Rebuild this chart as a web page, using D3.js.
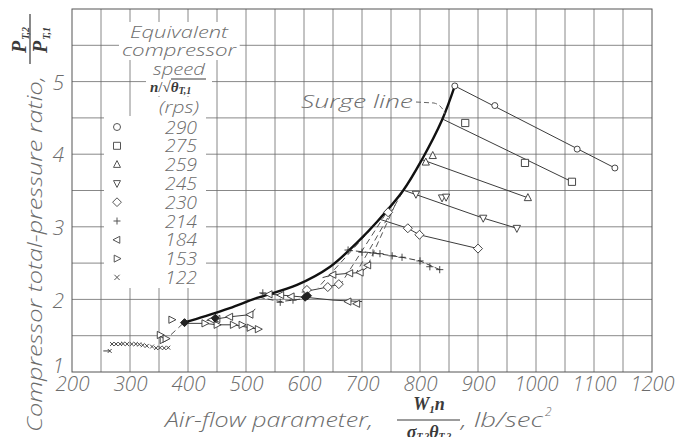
<!DOCTYPE html>
<html>
<head>
<meta charset="utf-8">
<script src="https://cdn.jsdelivr.net/npm/d3@7"></script>
<style>
body { margin: 0; background: #fff; }
text { font-family: "Open Sans", "DejaVu Sans", sans-serif; font-style: italic; font-weight: 300; fill: #6c6c6c; }
.math { font-family: "Liberation Serif", "DejaVu Serif", serif; font-weight: bold; font-style: italic; fill: #3a3a3a; }
</style>
</head>
<body>
<svg id="chart" width="689" height="437"></svg>
<script>
// axes
var xTicks = [200, 300, 400, 500, 600, 700, 800, 900, 1000, 1100, 1200];
var yTicks = [1, 2, 3, 4, 5];

// legend
var speeds = ["290", "275", "259", "245", "230", "214", "184", "153", "122"];
var shapes = ["circle", "square", "triUp", "triDown", "diamond", "plus", "triLeft", "triRight", "cross"];

// surge line (heavy curve)
var surge = [[391, 1.675], [430, 1.77], [472, 1.88], [519, 2.02], [588, 2.2], [645, 2.45],
    [691, 2.78], [726, 3.07], [771, 3.5], [803, 3.92], [838, 4.47], [860, 4.94]];

// 290 rps
var pts290 = [[860, 4.94], [929, 4.67], [1071, 4.07], [1136, 3.81]];
var line290 = [[860, 4.94], [1136, 3.81]];
// 275 rps
var pts275 = [[878, 4.43], [981, 3.88], [1062, 3.62]];
var line275 = [[840, 4.48], [1062, 3.62]];
// 259 rps
var pts259 = [[810, 3.89], [822, 3.98], [986, 3.40]];
var line259 = [[805, 3.92], [986, 3.40]];
// 245 rps
var pts245 = [[793, 3.45], [838, 3.40], [845, 3.41], [909, 3.12], [967, 2.98]];
var line245 = [[773, 3.5], [909, 3.12], [967, 2.98]];
// 230 rps
var pts230 = [[745, 3.2], [779, 2.98], [799, 2.89], [900, 2.70], [605, 2.13], [641, 2.17], [660, 2.21]];
var line230 = [[732, 3.1], [779, 2.98], [799, 2.89], [900, 2.70]];
var line230low = [[596, 2.1], [641, 2.17], [660, 2.21]];
// 214 rps
var pts214 = [[676, 2.68], [700, 2.65], [719, 2.64], [731, 2.63], [752, 2.60], [769, 2.58], [800, 2.53],
    [817, 2.45], [834, 2.41], [529, 2.09], [559, 1.96], [581, 1.99]];
var line214 = [[674, 2.68], [719, 2.64], [769, 2.58], [800, 2.53], [834, 2.41]];
var line214low = [[522, 2.03], [559, 1.97], [581, 1.99], [600, 2.01]];
// 184 rps
var pts184 = [[650, 2.34], [679, 2.36], [697, 2.37], [710, 2.47], [676, 1.97], [691, 1.94],
    [540, 2.07], [560, 2.06], [578, 2.04], [441, 1.72], [450, 1.73], [472, 1.76], [507, 1.79]];
var line184 = [[632, 2.3], [650, 2.34], [679, 2.36], [697, 2.37], [712, 2.46]];
var line184mid = [[525, 2.08], [560, 2.06], [602, 2.03], [650, 1.99], [700, 1.97]];
var line184low = [[432, 1.71], [472, 1.76], [507, 1.79], [516, 1.87]];
// 153 rps
var pts153 = [[372, 1.72], [429, 1.67], [450, 1.65], [478, 1.65], [493, 1.65], [507, 1.61], [521, 1.59],
    [352, 1.51], [357, 1.44], [362, 1.46]];
var line153 = [[395, 1.67], [429, 1.67], [450, 1.65], [478, 1.65], [507, 1.61], [521, 1.59]];
// 122 rps
var pts122 = [[265, 1.29], [269, 1.385], [276, 1.385], [283, 1.385], [288, 1.39], [295, 1.385], [303, 1.385],
    [310, 1.385], [316, 1.38], [322, 1.37], [329, 1.36], [338, 1.35], [345, 1.33], [352, 1.335], [359, 1.33], [366, 1.335]];
var line122 = [[254, 1.29], [265, 1.29]];

// dashed links to the surge line
var dashLinks = [
    [[770, 3.48], [691, 2.38]],
    [[757, 3.3], [710, 2.47]],
    [[741, 3.18], [664, 2.22]],
    [[717, 2.98], [624, 2.16]],
    [[391, 1.665], [366, 1.48]]
];
// heavy overplotted clusters
var blobs = [[602, 2.03], [394, 1.68], [447, 1.74], [606, 2.05]];

var svg = d3.select("#chart");
var x = d3.scaleLinear().domain([200, 1200]).range([72, 652]);
var y = d3.scaleLinear().domain([1, 6]).range([372, 9]);

function sym(type, r) {
    switch (type) {
        case "circle": return "M" + (-r) + ",0a" + r + "," + r + " 0 1,0 " + (2 * r) + ",0a" + r + "," + r + " 0 1,0 " + (-2 * r) + ",0";
        case "square": return "M" + (-r) + "," + (-r) + "h" + (2 * r) + "v" + (2 * r) + "h" + (-2 * r) + "Z";
        case "triUp": return "M0," + (-1.15 * r) + "L" + r + "," + (0.8 * r) + "L" + (-r) + "," + (0.8 * r) + "Z";
        case "triDown": return "M0," + (1.15 * r) + "L" + r + "," + (-0.8 * r) + "L" + (-r) + "," + (-0.8 * r) + "Z";
        case "triLeft": return "M" + (-1.15 * r) + ",0L" + (0.8 * r) + "," + (-r) + "L" + (0.8 * r) + "," + r + "Z";
        case "triRight": return "M" + (1.15 * r) + ",0L" + (-0.8 * r) + "," + (-r) + "L" + (-0.8 * r) + "," + r + "Z";
        case "diamond": return "M0," + (-1.25 * r) + "L" + (1.25 * r) + ",0L0," + (1.25 * r) + "L" + (-1.25 * r) + ",0Z";
        case "plus": return "M" + (-r) + ",0h" + (2 * r) + "M0," + (-r) + "v" + (2 * r);
        case "cross": return "M" + (-0.75 * r) + "," + (-0.75 * r) + "l" + (1.5 * r) + "," + (1.5 * r) + "M" + (0.75 * r) + "," + (-0.75 * r) + "l" + (-1.5 * r) + "," + (1.5 * r);
    }
}

// grid
var grid = svg.append("g").attr("stroke", "#6a6a6a").attr("stroke-width", 0.8);
grid.selectAll(".gx").data(d3.range(250, 1200, 50)).enter().append("line")
    .attr("x1", d => x(d)).attr("x2", d => x(d)).attr("y1", y(1)).attr("y2", y(6));
grid.selectAll(".gy").data(d3.range(1.5, 6, 0.5)).enter().append("line")
    .attr("y1", d => y(d)).attr("y2", d => y(d)).attr("x1", x(200)).attr("x2", x(1200));
svg.append("rect").attr("x", x(200)).attr("y", y(6)).attr("width", x(1200) - x(200)).attr("height", y(1) - y(6))
    .attr("fill", "none").attr("stroke", "#555").attr("stroke-width", 1);

// axes labels via d3 axes
var xAxis = svg.append("g").attr("transform", "translate(0," + y(1) + ")")
    .call(d3.axisBottom(x).tickValues(xTicks).tickSize(0).tickPadding(5).tickFormat(d3.format("d")));
xAxis.select(".domain").remove();
xAxis.selectAll("text").attr("font-size", 20).style("font-family", null)
    .attr("textLength", d => d >= 1000 ? 44 : 34).attr("lengthAdjust", "spacingAndGlyphs");
var yAxis = svg.append("g").attr("transform", "translate(" + x(200) + ",0)")
    .call(d3.axisLeft(y).tickValues(yTicks).tickSize(0).tickPadding(8).tickFormat(d3.format("d")));
yAxis.select(".domain").remove();
yAxis.selectAll("text").attr("font-size", 21).style("font-family", null).attr("y", d => d === 1 ? -6 : 1);
svg.selectAll(".tick text").attr("fill", "#777");

// legend
var lg = svg.append("g");
lg.append("rect").attr("x", 104).attr("y", 116).attr("width", 102).attr("height", 172).attr("fill", "#fff");
var titleLines = [["Equivalent", 38, 98], ["compressor", 56, 114], ["speed", 75, 52], ["(rps)", 113, 40]];
titleLines.forEach(function (t) {
    var tx = lg.append("text").attr("x", 179).attr("y", t[1]).attr("text-anchor", "middle")
        .attr("font-size", 17).attr("textLength", t[2]).attr("lengthAdjust", "spacingAndGlyphs").text(t[0]);
    var b = tx.node().getBBox();
    lg.insert("rect", "text").attr("x", b.x - 3).attr("y", b.y + 2).attr("width", b.width + 6)
        .attr("height", b.height - 3).attr("fill", "#fff");
});
lg.insert("rect", "text").attr("x", 146).attr("y", 76).attr("width", 66).attr("height", 20).attr("fill", "#fff");
var nt = lg.append("text").attr("x", 150).attr("y", 92).attr("class", "math").attr("font-size", 15);
nt.append("tspan").text("n");
nt.append("tspan").attr("class", "math").style("font-weight", "normal").style("font-style", "normal").text("/\u221A");
nt.append("tspan").text("\u03B8");
nt.append("tspan").attr("font-size", 10).attr("dy", 2).text("T,1");
lg.append("line").attr("x1", 171).attr("x2", 206).attr("y1", 79).attr("y2", 79).attr("stroke", "#3a3a3a").attr("stroke-width", 1);

var items = lg.selectAll(".item").data(speeds).enter().append("g")
    .attr("transform", (d, i) => "translate(0," + (127 + i * 18.8) + ")");
items.append("path").attr("transform", "translate(117,0)").attr("d", (d, i) => sym(shapes[i], 3.5))
    .attr("fill", "none").attr("stroke", "#555").attr("stroke-width", 1);
items.append("text").attr("x", 181).attr("y", 6.5).attr("text-anchor", "middle").attr("font-size", 18)
    .attr("textLength", 32).attr("lengthAdjust", "spacingAndGlyphs").text(d => d);

// data lines
var line = d3.line().x(d => x(d[0])).y(d => y(d[1]));
var solid = [line290, line275, line259, line245, line230, line230low, line184, line184mid, line184low, line153, line122];
svg.append("g").selectAll("path").data(solid).enter().append("path")
    .attr("d", line).attr("fill", "none").attr("stroke", "#3c3c3c").attr("stroke-width", 1);
svg.append("g").selectAll("path").data([line214, line214low]).enter().append("path")
    .attr("d", line).attr("fill", "none").attr("stroke", "#3c3c3c").attr("stroke-width", 1).attr("stroke-dasharray", "6,3");
svg.append("g").selectAll("path").data(dashLinks).enter().append("path")
    .attr("d", line).attr("fill", "none").attr("stroke", "#555").attr("stroke-width", 1).attr("stroke-dasharray", "6,4");

// surge line
svg.append("path").datum(surge).attr("d", line.curve(d3.curveCatmullRom)).attr("fill", "none")
    .attr("stroke", "#111").attr("stroke-width", 2.4);
line.curve(d3.curveLinear);

// markers
var groups = [pts290, pts275, pts259, pts245, pts230, pts214, pts184, pts153, pts122];
groups.forEach(function (pts, i) {
    svg.append("g").selectAll("path").data(pts).enter().append("path")
        .attr("transform", d => "translate(" + x(d[0]) + "," + y(d[1]) + ")")
        .attr("d", sym(shapes[i], i === 0 ? 3 : (i === 8 ? 2.6 : 3.6)))
        .attr("fill", (i === 5 || i === 8) ? "none" : "#fff").attr("stroke", "#333").attr("stroke-width", 0.9);
});
svg.append("g").selectAll("path").data(blobs).enter().append("path")
    .attr("transform", d => "translate(" + x(d[0]) + "," + y(d[1]) + ")")
    .attr("d", sym("diamond", 3.2)).attr("fill", "#222").attr("stroke", "#222");

// surge line label
svg.append("text").attr("x", 413).attr("y", 108).attr("text-anchor", "end").attr("font-size", 19)
    .attr("textLength", 112).attr("lengthAdjust", "spacingAndGlyphs").text("Surge line");
svg.append("path").attr("d", "M416,102 L434,103 Q442,105 445,114").attr("fill", "none")
    .attr("stroke", "#666").attr("stroke-width", 1).attr("stroke-dasharray", "5,3");

// x-axis title
svg.append("text").attr("x", 165).attr("y", 427).attr("font-size", 21)
    .attr("textLength", 208).attr("lengthAdjust", "spacingAndGlyphs").text("Air-flow parameter,");
var num = svg.append("text").attr("x", 429).attr("y", 410).attr("text-anchor", "middle").attr("class", "math").attr("font-size", 18);
num.append("tspan").text("W");
num.append("tspan").attr("font-size", 11).attr("dy", 3).text("1");
num.append("tspan").attr("dy", -3).text("n");
svg.append("line").attr("x1", 397).attr("x2", 460).attr("y1", 420).attr("y2", 420).attr("stroke", "#3a3a3a").attr("stroke-width", 1.2);
var den = svg.append("text").attr("x", 429).attr("y", 438).attr("text-anchor", "middle").attr("class", "math").attr("font-size", 18);
den.append("tspan").text("\u03C3");
den.append("tspan").attr("font-size", 10).attr("dy", 2).text("T,2");
den.append("tspan").attr("dy", -2).text("\u03B8");
den.append("tspan").attr("font-size", 10).attr("dy", 2).text("T,2");
svg.append("text").attr("x", 461).attr("y", 427).attr("font-size", 21)
    .attr("textLength", 82).attr("lengthAdjust", "spacingAndGlyphs").text(", lb/sec");
svg.append("text").attr("x", 545).attr("y", 416).attr("font-size", 12).text("2");

// y-axis title (rotated)
var yt = svg.append("g").attr("transform", "rotate(-90)");
yt.append("text").attr("x", -432).attr("y", 42).attr("font-size", 21)
    .attr("textLength", 356).attr("lengthAdjust", "spacingAndGlyphs").text("Compressor total-pressure ratio,");
var yn = yt.append("text").attr("x", -40).attr("y", 26).attr("text-anchor", "middle").attr("class", "math").attr("font-size", 20);
yn.append("tspan").text("P");
yn.append("tspan").attr("font-size", 10).attr("dx", 1).attr("dy", 3).text("T,2");
yt.append("line").attr("x1", -64).attr("x2", -14).attr("y1", 30).attr("y2", 30).attr("stroke", "#3a3a3a").attr("stroke-width", 1.2);
var yd = yt.append("text").attr("x", -40).attr("y", 47).attr("text-anchor", "middle").attr("class", "math").attr("font-size", 20);
yd.append("tspan").text("P");
yd.append("tspan").attr("font-size", 10).attr("dx", 1).attr("dy", 3).text("T,1");
</script>
</body>
</html>
